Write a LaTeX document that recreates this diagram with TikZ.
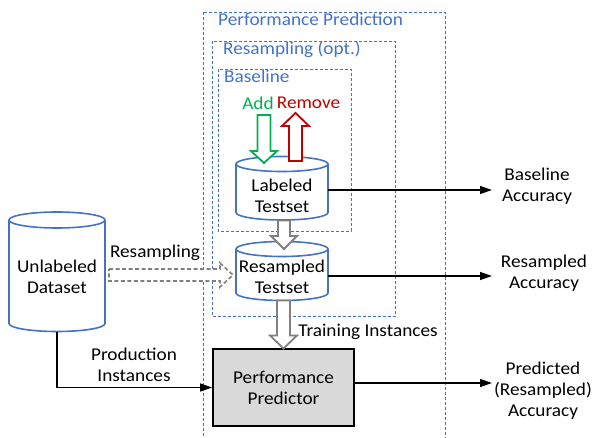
\documentclass[tikz,border=0pt]{standalone}
\usepackage{fontspec}
\setmainfont{Carlito}[FakeStretch=1.07]
\usetikzlibrary{arrows.meta,calc}
\definecolor{offblue}{HTML}{4472C4}
\definecolor{offgreen}{HTML}{00B050}
\definecolor{offred}{HTML}{C00000}
\definecolor{arrgray}{HTML}{808080}
\definecolor{boxgray}{HTML}{D9D9D9}
\tikzset{
  dbox/.style={draw=offblue, line width=0.9pt, dash pattern=on 3pt off 2pt},
  title/.style={text=offblue, anchor=west, inner sep=0pt, font=\fontsize{18}{21}\selectfont},
  txt/.style={align=center, inner sep=0pt, font=\fontsize{18}{21}\selectfont},
  cyl/.style={draw=offblue, line width=1.6pt, fill=white},
  blk/.style={line width=1.8pt, fill=white, line join=miter},
  arr/.style={draw=black, line width=1.3pt, -{Triangle[length=12pt,width=8pt]}},
}
% cylinder: #1 cx, #2 rx, #3 y of top ellipse centre, #4 y of bottom ellipse centre, #5 ry
\newcommand\drawcyl[5]{%
  \fill[white] (#1-#2,#3) rectangle (#1+#2,#4);
  \draw[cyl] (#1-#2,#3) -- (#1-#2,#4) arc[start angle=180, end angle=0, x radius=#2, y radius=#5] -- (#1+#2,#3);
  \draw[cyl] (#1,#3) ellipse[x radius=#2, y radius=#5];
}
% vertical block arrow: #1 style, #2 x, #3 y start, #4 y tip, #5 shaft half width, #6 head half width, #7 signed head length
\newcommand\vblock[7]{%
  \draw[#1] (#2-#5,#3) -- (#2-#5,#4-#7) -- (#2-#6,#4-#7) -- (#2,#4) -- (#2+#6,#4-#7) -- (#2+#5,#4-#7) -- (#2+#5,#3) -- cycle;
}
\newcommand\hblock[7]{%
  \draw[#1] (#3,#2-#5) -- (#4-#7,#2-#5) -- (#4-#7,#2-#6) -- (#4,#2) -- (#4-#7,#2+#6) -- (#4-#7,#2+#5) -- (#3,#2+#5) -- cycle;
}
\begin{document}
\begin{tikzpicture}[x=1pt,y=-1pt]
\useasboundingbox (0,0) rectangle (594,438);
\clip (0,0) rectangle (594,438);
% dashed frames
\draw[dbox] (203,12.5) rectangle (445,460);
\draw[dbox] (212,41.5) rectangle (395,316);
\draw[dbox] (218,69) rectangle (351,231);
\node[title] (tpp) at (218,19) {Performance Prediction};
\node[title] (tres) at (223,49) {Resampling (opt.)};
\node[title] (tbase) at (224,76) {Baseline};

% cylinders
\drawcyl{282}{46}{164}{212.5}{7.5}
\node[txt, minimum width=92pt] (lab) at (282,196) {Labeled\\Testset};
\coordinate (labtop) at (282,156.5);
\coordinate (labbot) at (282,220.5);

\drawcyl{282}{46}{249}{293}{7.5}
\node[txt, minimum width=92pt] (res) at (282,277) {Resampled\\Testset};
\coordinate (restop) at (282,241.5);
\coordinate (resbot) at (282,300.5);

\drawcyl{57}{48}{220}{323.5}{8}
\node[txt, minimum width=96pt] (unl) at (57,277) {Unlabeled\\Dataset};
\coordinate (unlbot) at (57,331.5);

% predictor
\node[draw=black, fill=boxgray, line width=1.8pt, minimum width=141pt, minimum height=77pt, txt] (pred) at (283.5,387.5) {Performance\\Predictor};

% add / remove
\node[txt, text=offgreen] (add) at (258,103) {Add};
\node[txt, text=offred] (rem) at (308.5,103) {Remove};
\vblock{blk, draw=offgreen}{264}{115}{163}{6.5}{13}{12}
\vblock{blk, draw=offred}{295.5}{161}{113}{6.5}{13.5}{-13}

% gray block arrows
\vblock{blk, draw=arrgray}{284}{220.5}{249}{6}{13}{13}
\vblock{blk, draw=arrgray}{283.5}{300.5}{348.5}{6.5}{13.5}{13}
\hblock{blk, draw=arrgray, line width=1.6pt, dash pattern=on 4pt off 2.5pt}{275}{109}{233}{6}{12}{13}

\node[txt] (lresamp) at (155,253) {Resampling};
\node[txt] (ltrain) at (368,332) {Training Instances};
\node[txt] (lprod) at (134,364.5) {Production\\Instances};

% outputs
\node[txt] (bacc) at (537,186) {Baseline\\Accuracy};
\node[txt] (racc) at (544,273) {Resampled\\Accuracy};
\node[txt] (pacc) at (543,391) {Predicted\\(Resampled)\\Accuracy};
\coordinate (baccin) at (492,190);
\coordinate (raccin) at (492,276);
\coordinate (paccin) at (492,383);

\draw[arr] (lab.east |- baccin) -- (baccin);
\draw[arr] (res.east |- raccin) -- (raccin);
\draw[arr] (pred.east |- paccin) -- (paccin);
\draw[arr] (unlbot) |- (pred.west);
\end{tikzpicture}
\end{document}
